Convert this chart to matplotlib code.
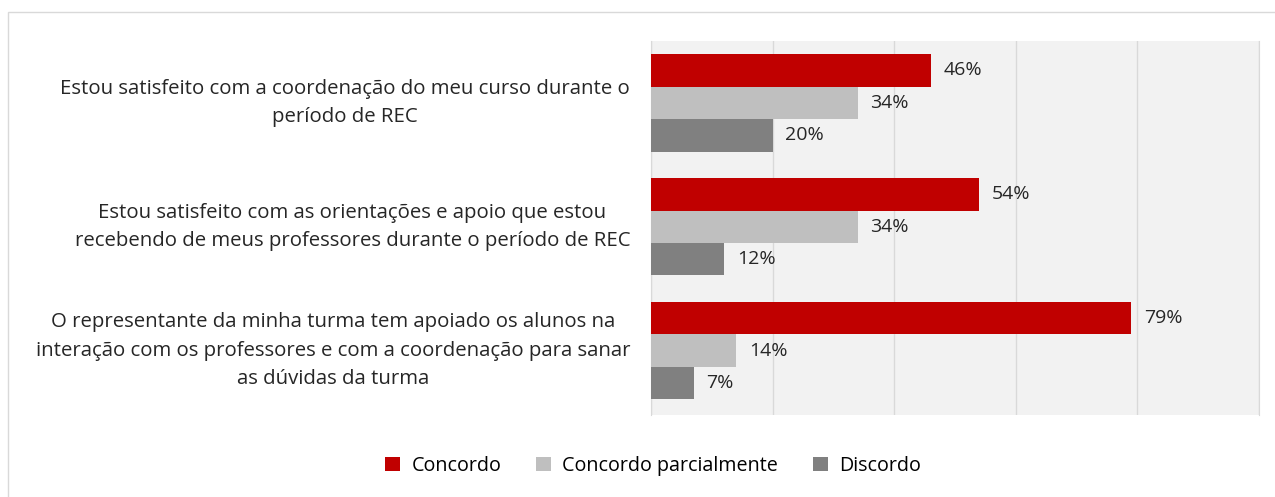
import matplotlib
matplotlib.use("Agg")
import matplotlib.pyplot as plt
from matplotlib.patches import Rectangle
import numpy as np

plt.rcParams['font.family'] = ['Open Sans', 'DejaVu Sans']

categories = [
    "Estou satisfeito com a coordenação do meu curso durante o\nperíodo de REC",
    "Estou satisfeito com as orientações e apoio que estou\nrecebendo de meus professores durante o período de REC",
    "O representante da minha turma tem apoiado os alunos na\ninteração com os professores e com a coordenação para sanar\nas dúvidas da turma",
]
series_names = ["Concordo", "Concordo parcialmente", "Discordo"]
concordo = [46, 54, 79]
parcial = [34, 34, 14]
discordo = [20, 12, 7]
colors = ["#C00000", "#BFBFBF", "#808080"]

W, H = 1275, 497
fig = plt.figure(figsize=(W / 100, H / 100), dpi=100)
fig.patch.set_facecolor("white")

# outer chart frame
fig.patches.append(Rectangle((8 / W, -0.2), 2, 1.2 - 12 / H, transform=fig.transFigure,
                             fill=False, edgecolor="#D9D9D9", linewidth=1.0, zorder=0))

ax = fig.add_axes([651 / W, 1 - 415 / H, (1259 - 651) / W, (415 - 41) / H])
ax.set_facecolor("#F2F2F2")

y = np.arange(len(categories))
h = 0.262
for i, (vals, col, name) in enumerate(zip([concordo, parcial, discordo], colors, series_names)):
    pos = y + (i - 1) * h
    ax.barh(pos, vals, height=h, color=col, label=name, zorder=3)
    for p, v in zip(pos, vals):
        ax.text(v + 2.1, p, f"{v}%", va="center", ha="left", fontsize=14, color="#262626", zorder=4)

ax.set_xlim(0, 100)
ax.set_ylim(2.52, -0.5)
ax.set_xticks(np.arange(0, 101, 20))
ax.xaxis.grid(True, color="#D9D9D9", linewidth=1.0, zorder=0)
ax.tick_params(axis="x", length=0, labelbottom=False)
ax.tick_params(axis="y", length=0, pad=15)
for s in ["top", "bottom"]:
    ax.spines[s].set_visible(False)
ax.spines["right"].set_color("#D9D9D9")
ax.spines["left"].set_color("#D9D9D9")

ax.set_yticks(y)
ax.set_yticklabels(categories, fontsize=14.7, color="#262626", linespacing=1.55,
                   multialignment="center", va="center")

fig.legend(loc="center", bbox_to_anchor=(653 / W, 1 - 466 / H), ncol=3, frameon=False,
           fontsize=14.2, handlelength=0.75, handleheight=0.75, handletextpad=0.6,
           columnspacing=1.75, labelcolor="#000000")

fig.savefig("out.png", dpi=100)
